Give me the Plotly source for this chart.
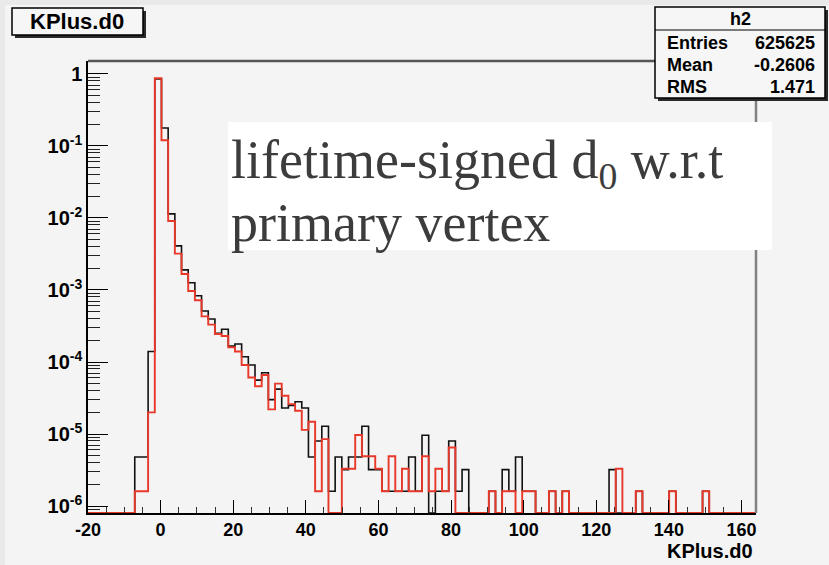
import numpy as np
import plotly.graph_objects as go

# ---------------- data ----------------
x_min, x_max, n_bins = -20.0, 164.0, 100
black_vals = [
    0, 0, 0, 0, 0, 0, 0, 4.8e-6, 4.8e-6, 1.4e-4,
    0.85, 0.178, 0.0114, 0.0041, 0.0019, 0.00126, 0.00083, 5.1e-4, 3.96e-4, 2.5e-4,
    2.85e-4, 1.66e-4, 1.78e-4, 1.18e-4, 9.1e-5, 5.6e-5, 7.1e-5, 3.0e-5, 4.2e-5, 2.3e-5,
    2.5e-5, 2.8e-5, 2.3e-5, 4.8e-6, 8.0e-6, 1.28e-5, 1.6e-6, 4.8e-6, 3.2e-6, 4.8e-6,
    4.8e-6, 1.28e-5, 3.2e-6, 3.2e-6, 1.6e-6, 1.6e-6, 1.6e-6, 1.6e-6, 4.8e-6, 1.6e-6,
    9.6e-6, 0, 1.6e-6, 1.6e-6, 8.0e-6, 1.6e-6, 3.2e-6, 0, 0, 0,
    1.6e-6, 0, 3.2e-6, 1.6e-6, 4.8e-6, 1.6e-6, 1.6e-6, 0, 0, 1.6e-6,
    0, 1.6e-6, 0, 0, 0, 0, 0, 0, 3.2e-6, 0,
    0, 0, 1.6e-6, 0, 0, 0, 0, 1.6e-6, 0, 0,
    0, 0, 1.6e-6, 0, 0, 0, 0, 0, 0, 0,
]
red_vals = [
    0, 0, 0, 0, 0, 0, 0, 1.6e-6, 1.6e-6, 2.0e-5,
    0.87, 0.12, 0.0091, 0.0032, 0.00167, 0.00097, 0.00072, 4.3e-4, 3.3e-4, 2.45e-4,
    2.3e-4, 1.6e-4, 1.4e-4, 9.1e-5, 6.1e-5, 4.6e-5, 6.6e-5, 2.2e-5, 5.0e-5, 3.4e-5,
    2.6e-5, 2.1e-5, 1.14e-5, 1.48e-5, 1.6e-6, 8.5e-6, 0, 0, 3.3e-6, 3.3e-6,
    9.7e-6, 4.9e-6, 4.9e-6, 3.3e-6, 1.6e-6, 4.9e-6, 1.6e-6, 3.3e-6, 1.6e-6, 1.6e-6,
    4.9e-6, 1.6e-6, 3.3e-6, 1.6e-6, 6.5e-6, 0, 0, 0, 0, 0,
    1.6e-6, 0, 1.6e-6, 1.6e-6, 0, 1.6e-6, 1.6e-6, 0, 0, 1.6e-6,
    0, 1.6e-6, 0, 0, 0, 0, 0, 0, 0, 3.3e-6,
    0, 0, 1.6e-6, 0, 0, 0, 0, 1.6e-6, 0, 0,
    0, 0, 1.6e-6, 0, 0, 0, 0, 0, 0, 0,
]
x_tick_vals = [-20, 0, 20, 40, 60, 80, 100, 120, 140, 160]
x_tick_text = ["-20", "0", "20", "40", "60", "80", "100", "120", "140", "160"]
y_tick_vals = [1e-6, 1e-5, 1e-4, 1e-3, 1e-2, 1e-1, 1]
y_tick_text = ["10<sup>-6</sup>", "10<sup>-5</sup>", "10<sup>-4</sup>", "10<sup>-3</sup>",
               "10<sup>-2</sup>", "10<sup>-1</sup>", "1"]
stats_rows = [("Entries", "625625"), ("Mean", "-0.2606"), ("RMS", "1.471")]
hist_title = "KPlus.d0"
stats_name = "h2"
note_lines = ["lifetime-signed d<sub>0</sub> w.r.t", "primary vertex"]

# ---------------- layout geometry ----------------
W, H = 829, 565
L, R, T, B = 88, 756, 61, 513
y_log_range = [-6.097, 0.18]
floor = 10 ** y_log_range[0]

def px(x):
    return (x - L) / (R - L)

def py(y):
    return (B - y) / (B - T)

edges = np.linspace(x_min, x_max, n_bins + 1)

def step_y(vals):
    v = [val if val > 0 else floor for val in vals]
    return v + [v[-1]]

fig = go.Figure()
fig.add_trace(go.Scatter(x=edges, y=step_y(black_vals), mode="lines",
                         line=dict(color="#111111", width=1.6, shape="hv"),
                         showlegend=False, hoverinfo="skip"))
fig.add_trace(go.Scatter(x=edges, y=step_y(red_vals), mode="lines",
                         line=dict(color="#e8382a", width=1.9, shape="hv"),
                         showlegend=False, hoverinfo="skip"))

minor_y = [m * 10.0 ** e for e in range(-7, 1) for m in range(2, 10)]

bold = dict(family="Liberation Sans, Arial, sans-serif", color="black", weight="bold")

fig.update_layout(
    width=W, height=H,
    paper_bgcolor="#f4f4f4", plot_bgcolor="#f4f4f4",
    margin=dict(l=L, r=W - R, t=T, b=H - B, pad=0),
    xaxis=dict(range=[x_min, x_max], tickmode="array", tickvals=x_tick_vals,
               ticktext=x_tick_text, ticks="inside", ticklen=13, tickwidth=1,
               tickcolor="black", showline=True, linecolor="black", linewidth=1.5,
               showgrid=False, zeroline=False,
               tickfont=dict(size=18, **bold),
               minor=dict(dtick=5, tick0=0, ticks="inside", ticklen=6,
                          tickcolor="#333", showgrid=False)),
    yaxis=dict(type="log", range=y_log_range, tickmode="array", tickvals=y_tick_vals,
               ticktext=y_tick_text, ticks="inside", ticklen=20, tickwidth=1,
               tickcolor="black", showline=True, linecolor="black", linewidth=1.5,
               showgrid=False, zeroline=False,
               tickfont=dict(size=20, **bold),
               minor=dict(tickmode="array", tickvals=minor_y, ticks="inside",
                          ticklen=12, tickcolor="#222", showgrid=False)),
)

shapes = []
shapes.append(dict(type="rect", xref="paper", yref="paper", x0=px(0), x1=px(5),
                   y0=py(H), y1=py(0), fillcolor="#e9e9e9", line=dict(width=0), layer="below"))
shapes.append(dict(type="rect", xref="paper", yref="paper", x0=px(0), x1=px(W),
                   y0=py(5), y1=py(0), fillcolor="#e9e9e9", line=dict(width=0), layer="below"))
shapes.append(dict(type="line", xref="paper", yref="paper", x0=px(L), x1=px(R),
                   y0=py(T), y1=py(T), line=dict(color="#555555", width=2.5), layer="above"))
shapes.append(dict(type="line", xref="paper", yref="paper", x0=px(R), x1=px(R),
                   y0=py(T), y1=py(B), line=dict(color="#808080", width=2.5), layer="above"))
shapes.append(dict(type="rect", xref="paper", yref="paper", x0=px(228), x1=px(772),
                   y0=py(250), y1=py(122), fillcolor="white", line=dict(width=0), layer="above"))
shapes.append(dict(type="rect", xref="paper", yref="paper", x0=px(15), x1=px(146),
                   y0=py(38), y1=py(11), fillcolor="#2a2a2a", line=dict(width=0), layer="above"))
shapes.append(dict(type="rect", xref="paper", yref="paper", x0=px(12), x1=px(143),
                   y0=py(35), y1=py(8), fillcolor="#f6f6f6",
                   line=dict(color="black", width=1.5), layer="above"))
shapes.append(dict(type="rect", xref="paper", yref="paper", x0=px(658), x1=px(828),
                   y0=py(101), y1=py(10), fillcolor="#2a2a2a", line=dict(width=0), layer="above"))
shapes.append(dict(type="rect", xref="paper", yref="paper", x0=px(655), x1=px(825),
                   y0=py(98), y1=py(7), fillcolor="#f6f6f6",
                   line=dict(color="black", width=1.5), layer="above"))
shapes.append(dict(type="line", xref="paper", yref="paper", x0=px(655), x1=px(825),
                   y0=py(30), y1=py(30), line=dict(color="black", width=1.2), layer="above"))
fig.update_layout(shapes=shapes)

ann = []
ann.append(dict(text=hist_title, x=px(77), y=py(22), xref="paper", yref="paper",
                xanchor="center", yanchor="middle", showarrow=False,
                font=dict(size=22, **bold)))
ann.append(dict(text=stats_name, x=px(740), y=py(19), xref="paper", yref="paper",
                xanchor="center", yanchor="middle", showarrow=False,
                font=dict(size=18, **bold)))
for i, (k, v) in enumerate(stats_rows):
    yy = 43 + 22 * i
    ann.append(dict(text=k, x=px(665), y=py(yy), xref="paper", yref="paper",
                    xanchor="left", yanchor="middle", showarrow=False,
                    font=dict(size=18, **bold)))
    ann.append(dict(text=v, x=px(817), y=py(yy), xref="paper", yref="paper",
                    xanchor="right", yanchor="middle", showarrow=False,
                    font=dict(size=18, **bold)))
ann.append(dict(text=hist_title, x=px(755), y=py(551), xref="paper", yref="paper",
                xanchor="right", yanchor="middle", showarrow=False,
                font=dict(size=20, **bold)))
for i, line in enumerate(note_lines):
    ann.append(dict(text=line, x=px(229), y=py(163 + 60 * i), xref="paper", yref="paper",
                    xanchor="left", yanchor="middle", showarrow=False,
                    font=dict(size=54, family="Liberation Serif, Times New Roman, serif",
                              color="#3c3c3c")))
fig.update_layout(annotations=ann)

fig.write_html("out.html")
